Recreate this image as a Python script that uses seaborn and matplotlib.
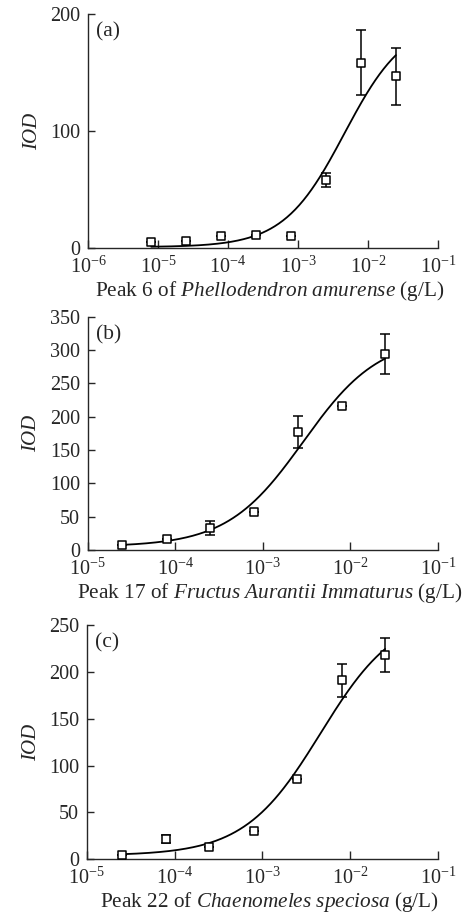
import numpy as np
import pandas as pd
import matplotlib
matplotlib.use("Agg")
import matplotlib.pyplot as plt
import seaborn as sns
from matplotlib.ticker import LogLocator, LogFormatterMathtext, FixedLocator, NullLocator

# ---------------- data ----------------
conc_a = [8e-6, 2.5e-5, 8e-5, 2.5e-4, 8e-4, 2.5e-3, 8e-3, 2.5e-2]
iod_a = [5.7, 6.5, 10.8, 11.7, 10.8, 58.3, 158.5, 146.8]
err_a = [0, 0, 0, 0, 0, 6.4, 27.6, 24.5]

conc_b = [2.5e-5, 8e-5, 2.5e-4, 8e-4, 2.5e-3, 8e-3, 2.5e-2]
iod_b = [7.5, 17.0, 33.0, 56.5, 177.5, 215.5, 294.0]
err_b = [0, 0, 10.5, 0, 24.0, 0, 30.0]

conc_c = [2.5e-5, 8e-5, 2.5e-4, 8e-4, 2.5e-3, 8e-3, 2.5e-2]
iod_c = [4.6, 21.3, 13.5, 29.9, 85.3, 191.0, 218.0]
err_c = [0, 4.3, 0, 0, 0, 17.5, 18.0]

# fitted 4-parameter logistic curves (bottom, top, EC50, hill)
fit_a = (1.0, 195.0, 4.6e-3, 1.0)
fit_b = (5.0, 320.0, 2.9e-3, 1.0)
fit_c = (4.0, 265.0, 4.6e-3, 1.0)

labels = ["(a)", "(b)", "(c)"]
xlabels = [r"Peak 6 of $\mathit{Phellodendron\ amurense}$ (g/L)",
           r"Peak 17 of $\mathit{Fructus\ Aurantii\ Immaturus}$ (g/L)",
           r"Peak 22 of $\mathit{Chaenomeles\ speciosa}$ (g/L)"]
xlims = [(1e-6, 1e-1), (1e-5, 1e-1), (1e-5, 1e-1)]
yticks = [[0, 100, 200], list(range(0, 351, 50)), list(range(0, 251, 50))]
ylims = [(0, 200), (0, 350), (0, 250)]

# ---------------- style ----------------
sns.set_style("ticks")
plt.rcParams["font.family"] = ["Liberation Serif", "DejaVu Serif"]
plt.rcParams["mathtext.fontset"] = "custom"
plt.rcParams["mathtext.rm"] = "Liberation Serif"
plt.rcParams["mathtext.it"] = "Liberation Serif:italic"
plt.rcParams["mathtext.bf"] = "Liberation Serif:bold"
plt.rcParams["axes.linewidth"] = 1.0

fig = plt.figure(figsize=(4.66, 9.18), dpi=100)
W, H = 466, 918
boxes = [(88, 14, 438, 248.3), (87.5, 316.7, 438, 550), (86.7, 625, 438, 859.3)]

def logistic(x, p):
    b, t, c, h = p
    return b + (t - b) / (1 + (c / x) ** h)

datasets = [(conc_a, iod_a, err_a, fit_a), (conc_b, iod_b, err_b, fit_b), (conc_c, iod_c, err_c, fit_c)]

for i, ((cx, cy, ce, fit), box) in enumerate(zip(datasets, boxes)):
    l, t, r, b = box
    ax = fig.add_axes([l / W, 1 - b / H, (r - l) / W, (b - t) / H])
    ax.set_xscale("log")
    xs = np.logspace(np.log10(cx[0]), np.log10(cx[-1]), 300)
    curve = pd.DataFrame({"x": xs, "y": logistic(xs, fit)})
    sns.lineplot(data=curve, x="x", y="y", ax=ax, color="black", lw=1.3)
    ax.errorbar(cx, cy, yerr=ce, fmt="none", ecolor="black", elinewidth=1.1,
                capsize=3.8, capthick=1.1, zorder=3)
    df = pd.DataFrame({"x": cx, "y": cy})
    sns.scatterplot(data=df, x="x", y="y", ax=ax, marker="s", s=36,
                    facecolor="white", edgecolor="black", linewidth=1.1, zorder=4)
    ax.set_xlim(*xlims[i])
    ax.set_ylim(*ylims[i])
    ax.xaxis.set_major_locator(LogLocator(base=10, numticks=10))
    ax.xaxis.set_major_formatter(LogFormatterMathtext())
    ax.xaxis.set_minor_locator(NullLocator())
    ax.yaxis.set_major_locator(FixedLocator(yticks[i]))
    ax.tick_params(direction="in", width=1.0, labelsize=14.5)
    ax.tick_params(axis="x", length=5.5, pad=6)
    ax.tick_params(axis="y", length=4.8, pad=5.5)
    sns.despine(ax=ax)
    ax.set_xlabel(xlabels[i], fontsize=15.3, labelpad=1)
    ax.xaxis.label.set_x(0.52)
    ax.set_ylabel("IOD", fontsize=15, style="italic", labelpad=6)
    ax.text(0.023, 0.924, labels[i], transform=ax.transAxes, fontsize=15.5,
            ha="left", va="center")

fig.savefig("out.png", dpi=100)
